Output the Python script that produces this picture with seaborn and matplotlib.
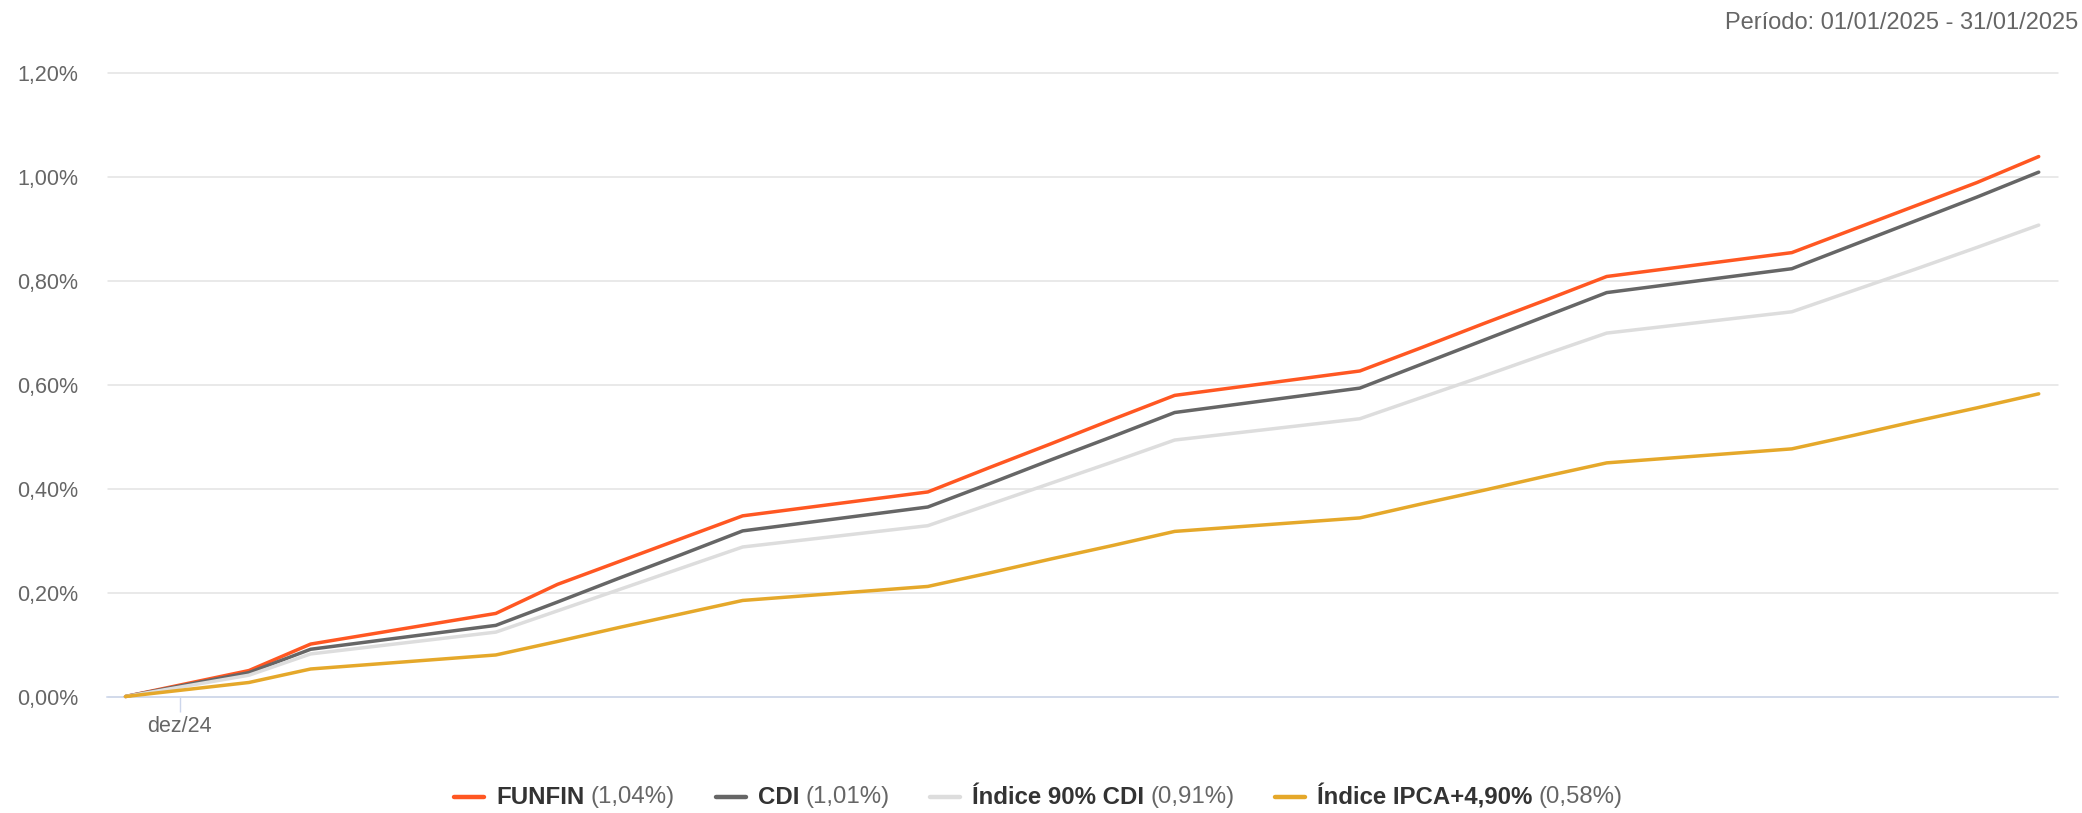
import matplotlib
matplotlib.use("Agg")
import matplotlib.pyplot as plt
from matplotlib.lines import Line2D
import pandas as pd
import seaborn as sns

# ---------------- data ----------------
dates = ["2024-12-31", "2025-01-02", "2025-01-03", "2025-01-06", "2025-01-07",
         "2025-01-08", "2025-01-09", "2025-01-10", "2025-01-13", "2025-01-14",
         "2025-01-15", "2025-01-16", "2025-01-17", "2025-01-20", "2025-01-21",
         "2025-01-22", "2025-01-23", "2025-01-24", "2025-01-27", "2025-01-28",
         "2025-01-29", "2025-01-30", "2025-01-31"]

funfin = [0.000, 0.050, 0.101, 0.160, 0.216, 0.260, 0.304, 0.348, 0.394, 0.441,
          0.487, 0.534, 0.580, 0.627, 0.672, 0.718, 0.763, 0.809, 0.855, 0.900,
          0.945, 0.990, 1.040]
cdi = [0.000, 0.046, 0.091, 0.137, 0.182, 0.228, 0.273, 0.319, 0.365, 0.410,
       0.456, 0.501, 0.547, 0.594, 0.640, 0.686, 0.732, 0.778, 0.824, 0.870,
       0.916, 0.962, 1.010]
cdi90 = [0.000, 0.041, 0.082, 0.124, 0.165, 0.206, 0.247, 0.288, 0.329, 0.370,
         0.411, 0.452, 0.494, 0.535, 0.576, 0.617, 0.659, 0.700, 0.741, 0.782,
         0.823, 0.865, 0.908]
ipca = [0.000, 0.027, 0.053, 0.080, 0.106, 0.133, 0.159, 0.185, 0.212, 0.238,
        0.265, 0.291, 0.318, 0.344, 0.371, 0.397, 0.424, 0.450, 0.477, 0.503,
        0.530, 0.556, 0.583]

series_names = ["FUNFIN", "CDI", "Índice 90% CDI", "Índice IPCA+4,90%"]
series_totals = ["(1,04%)", "(1,01%)", "(0,91%)", "(0,58%)"]
series_colors = ["#FF5722", "#666666", "#DDDDDD", "#E5A82A"]

y_ticks = [0.0, 0.2, 0.4, 0.6, 0.8, 1.0, 1.2]
x_tick_dates = ["2024-12-31 21:00"]
x_tick_labels = ["dez/24"]
title_text = "Período: 01/01/2025 - 31/01/2025"

# ---------------- build table ----------------
rows = []
for name, vals in zip(series_names, [funfin, cdi, cdi90, ipca]):
    for d, v in zip(dates, vals):
        rows.append({"date": pd.Timestamp(d), "value": v, "serie": name})
df = pd.DataFrame(rows)

# ---------------- plot ----------------
sns.set_theme(style="white")
plt.rcParams["font.family"] = ["Liberation Sans", "DejaVu Sans"]

W, H = 2082, 813
fig = plt.figure(figsize=(W / 100, H / 100), dpi=100)
left, right = 107.5 / W, 2058 / W
bottom, top = (H - 696.5) / H, (H - 73.5) / H
ax = fig.add_axes([left, bottom, right - left, top - bottom])

sns.lineplot(data=df, x="date", y="value", hue="serie", hue_order=series_names,
             palette=series_colors, linewidth=2.5, legend=False, ax=ax,
             estimator=None, sort=False)
for ln in ax.lines:
    ln.set_clip_on(False)
    ln.set_solid_joinstyle("round")
    ln.set_solid_capstyle("round")

ax.set_ylim(0, 1.2)
ax.set_yticks(y_ticks)
ax.set_yticklabels([f"{v:.2f}%".replace(".", ",") for v in y_ticks])
ax.set_xlim(pd.Timestamp(dates[0]) - pd.Timedelta(hours=7),
            pd.Timestamp(dates[-1]) + pd.Timedelta(hours=7.5))
ax.set_xticks([pd.Timestamp(t) for t in x_tick_dates])
ax.set_xticklabels(x_tick_labels)
ax.set_xlabel("")
ax.set_ylabel("")

ax.grid(axis="y", color="#E3E3E3", linewidth=1.1)
ax.grid(axis="x", visible=False)
for g in ax.get_ygridlines():
    g.set_clip_on(False)
ax.set_axisbelow(True)
for s in ["top", "right", "left"]:
    ax.spines[s].set_visible(False)
ax.spines["bottom"].set_color("#CCD6EB")
ax.spines["bottom"].set_linewidth(1.1)
ax.spines["bottom"].set_zorder(1.5)

ax.tick_params(axis="y", left=False, length=0, pad=21, labelsize=15.5,
               labelcolor="#666666")
ax.tick_params(axis="x", bottom=True, direction="out", length=11, width=1.0,
               color="#CCD6EB", pad=3, labelsize=15.5, labelcolor="#666666")

# title (top right)
fig.text(2078 / W, 1 - 23 / H, title_text, ha="right", va="center",
         fontsize=17, color="#666666")

# ---------------- custom legend ----------------
renderer = fig.canvas.get_renderer()
leg_y = 1 - 797 / H
fs = 17.3
bold_txts, norm_txts = [], []
for name, tot in zip(series_names, series_totals):
    bt = fig.text(0, leg_y, name, fontsize=fs, fontweight="bold", color="#333333",
                  ha="left", va="center")
    nt = fig.text(0, leg_y, tot, fontsize=fs, color="#666666", ha="left", va="center")
    bold_txts.append(bt)
    norm_txts.append(nt)

mark_len, mark_gap, word_gap, entry_gap = 30, 12, 6, 41
widths = []
for bt, nt in zip(bold_txts, norm_txts):
    wb = bt.get_window_extent(renderer).width
    wn = nt.get_window_extent(renderer).width
    widths.append((wb, wn))
total = sum(mark_len + mark_gap + wb + word_gap + wn for wb, wn in widths) + entry_gap * (len(widths) - 1)
x = 1038.5 - total / 2
for (wb, wn), bt, nt, col in zip(widths, bold_txts, norm_txts, series_colors):
    fig.add_artist(Line2D([x / W, (x + mark_len) / W], [leg_y, leg_y], color=col,
                          linewidth=3.2, transform=fig.transFigure))
    x += mark_len + mark_gap
    bt.set_x(x / W)
    x += wb + word_gap
    nt.set_x(x / W)
    x += wn + entry_gap

fig.savefig("out.png", dpi=100, facecolor="white")
